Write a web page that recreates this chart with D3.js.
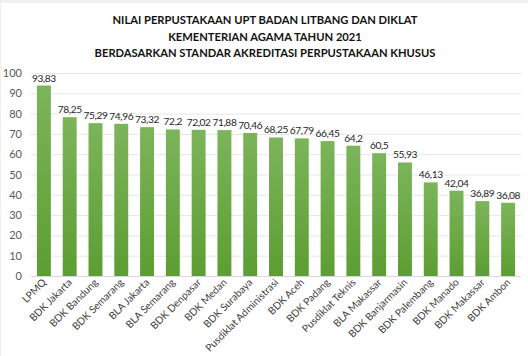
<!DOCTYPE html>
<html><head><meta charset="utf-8">
<script src="https://cdn.jsdelivr.net/npm/d3@7"></script>
<style>body{margin:0;background:#fff}svg{display:block}</style>
</head><body>
<script>
const titleLines = ["NILAI PERPUSTAKAAN UPT BADAN LITBANG DAN DIKLAT","KEMENTERIAN AGAMA TAHUN 2021","BERDASARKAN STANDAR AKREDITASI PERPUSTAKAAN KHUSUS"];
const categories = ["LPMQ","BDK Jakarta","BDK Bandung","BDK Semarang","BLA Jakarta","BLA Semarang","BDK Denpasar","BDK Medan","BDK Surabaya","Pusdiklat Administrasi","BDK Aceh","BDK Padang","Pusdiklat Teknis","BLA Makassar","BDK Banjarmasin","BDK Palembang","BDK Manado","BDK Makassar","BDK Ambon"];
const values = [93.83,78.25,75.29,74.96,73.32,72.2,72.02,71.88,70.46,68.25,67.79,66.45,64.2,60.5,55.93,46.13,42.04,36.89,36.08];
const yTicks = [0,10,20,30,40,50,60,70,80,90,100];

const W=528,H=356;
const svg=d3.select("body").append("svg").attr("width",W).attr("height",H);
svg.append("rect").attr("width",W).attr("height",H).attr("fill","#fff");
svg.append("rect").attr("x",0).attr("y",0).attr("width",W).attr("height",3).attr("fill","#f0f0f0");
svg.append("rect").attr("x",0).attr("y",0).attr("width",1).attr("height",H).attr("fill","#f0f0f0");

const font="Lato, 'Open Sans', sans-serif";
const tg=svg.append("g");
titleLines.forEach((t,i)=>{
  tg.append("text").attr("x",265).attr("y",24+i*16.7).attr("text-anchor","middle")
    .attr("font-family",font).attr("font-weight","bold").attr("font-size",11.2).attr("fill","#111").text(t);
});

const x=d3.scaleBand().domain(categories).range([31,521]).paddingInner(0.46).paddingOuter(0.23);
const y=d3.scaleLinear().domain([0,100]).range([276,73]);

const grid=svg.append("g");
yTicks.forEach(t=>{
  grid.append("line").attr("x1",31).attr("x2",521).attr("y1",y(t)+0.5).attr("y2",y(t)+0.5)
    .attr("stroke",t===0?"#d9d9d9":"#e6e6e6").attr("stroke-width",1);
});
const yAxis=svg.append("g").attr("transform","translate(22,0)")
  .call(d3.axisLeft(y).tickValues(yTicks).tickSize(0).tickPadding(0));
yAxis.select(".domain").remove();
yAxis.selectAll("text").attr("font-family",font).attr("font-size",11).attr("fill","#595959");

const defs=svg.append("defs");
const grad=defs.append("linearGradient").attr("id","g").attr("x1",0).attr("y1",0).attr("x2",0).attr("y2",1);
grad.append("stop").attr("offset","0%").attr("stop-color","#7cb45a");
grad.append("stop").attr("offset","100%").attr("stop-color","#5c9e32");

svg.append("g").selectAll("rect").data(values).join("rect")
  .attr("x",(d,i)=>x(categories[i])).attr("width",x.bandwidth())
  .attr("y",d=>y(d)).attr("height",d=>y(0)-y(d)).attr("fill","url(#g)");

svg.append("g").selectAll("text").data(values).join("text")
  .attr("x",(d,i)=>x(categories[i])+x.bandwidth()/2).attr("y",d=>y(d)-4)
  .attr("text-anchor","middle").attr("font-family",font).attr("font-size",10.2)
  .attr("letter-spacing",-0.4).attr("fill","#262626")
  .text(d=>String(d).replace(".",","));

svg.append("g").selectAll("text").data(categories).join("text")
  .attr("transform",d=>`translate(${x(d)+x.bandwidth()/2+3},${283}) rotate(-45)`)
  .attr("text-anchor","end").attr("font-family",font).attr("font-size",10.2).attr("fill","#404040")
  .text(d=>d);
</script>
</body></html>
